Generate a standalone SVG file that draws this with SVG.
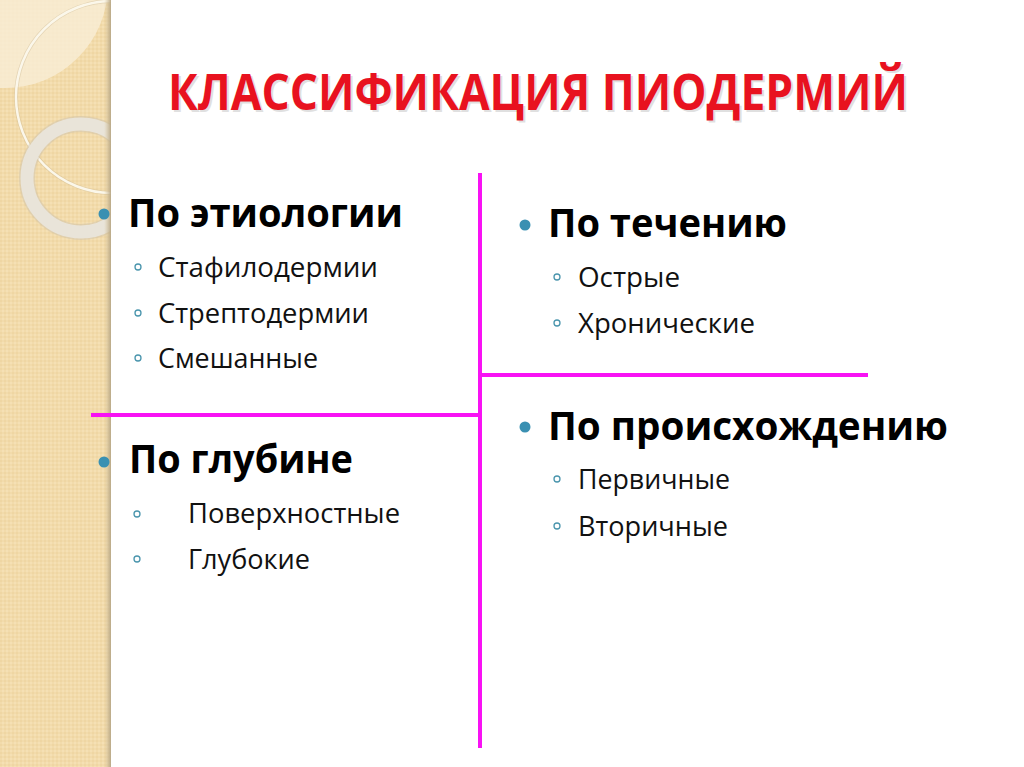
<svg xmlns="http://www.w3.org/2000/svg" width="1024" height="767" viewBox="0 0 1024 767">
<style>
.title{font-family:"Open Sans","Liberation Sans",sans-serif;font-weight:700;font-size:50px;fill:#e8121f}
.tshadow{font-family:"Open Sans","Liberation Sans",sans-serif;font-weight:700;font-size:50px;fill:#9a9a9a;opacity:0.3}
.head{font-family:"Open Sans","Liberation Sans",sans-serif;font-weight:700;font-size:40px;fill:#000}
.item{font-family:"Open Sans","Liberation Sans",sans-serif;font-size:28px;fill:#111}
.dot{fill:#3a90b2}
.sub{fill:#fff;stroke:#4a95ad;stroke-width:1.3}
.line{stroke:#f812f4;stroke-width:4;stroke-linecap:butt;fill:none}
</style>
<defs>
<clipPath id="strip"><rect x="0" y="0" width="111" height="767"/></clipPath>
<linearGradient id="edge" x1="0" y1="0" x2="1" y2="0">
<stop offset="0" stop-color="#d8c49a" stop-opacity="0"/>
<stop offset="1" stop-color="#b8a888"/>
</linearGradient>
<pattern id="hatch" width="4" height="4" patternUnits="userSpaceOnUse">
<rect width="4" height="4" fill="#f2dbab"/>
<rect width="2" height="2" fill="#efd6a3"/>
<rect x="2" y="2" width="2" height="2" fill="#f5e0b4"/>
</pattern>
</defs>
<rect x="0" y="0" width="1024" height="767" fill="#ffffff"/>
<g id="background-strip">
<rect x="0" y="0" width="111" height="767" fill="url(#hatch)"/>
<g clip-path="url(#strip)">
<circle cx="5" cy="-15" r="103" fill="#f8ecd4" opacity="0.85"/>
<circle cx="112" cy="97" r="96" fill="none" stroke="#c9b58e" stroke-width="4" opacity="0.4"/>
<circle cx="112" cy="97" r="96" fill="none" stroke="#fbf7ea" stroke-width="2.5"/>
<circle cx="81" cy="178" r="54" fill="none" stroke="#cfc3ad" stroke-width="16" opacity="0.5"/>
<circle cx="81" cy="178" r="54" fill="none" stroke="#e9e4d9" stroke-width="13"/>
</g>
<rect x="104" y="0" width="7" height="767" fill="url(#edge)"/>
</g>
<g id="title">
<text class="tshadow" x="170" y="112" textLength="740" lengthAdjust="spacingAndGlyphs">КЛАССИФИКАЦИЯ ПИОДЕРМИЙ</text>
<text class="title" x="168" y="110" textLength="740" lengthAdjust="spacingAndGlyphs">КЛАССИФИКАЦИЯ ПИОДЕРМИЙ</text>
</g>
<g id="connectors">
<line class="line" x1="480" y1="173" x2="480" y2="748"/>
<line class="line" x1="91" y1="415" x2="480" y2="415"/>
<line class="line" x1="480" y1="375" x2="868" y2="375"/>
</g>
<g id="etiology">
<circle class="dot" cx="104" cy="214" r="5.5"/>
<text class="head" x="128" y="227" textLength="275" lengthAdjust="spacingAndGlyphs">По этиологии</text>
<circle class="sub" cx="138" cy="267" r="3"/>
<text class="item" x="158" y="277" textLength="220" lengthAdjust="spacingAndGlyphs">Стафилодермии</text>
<circle class="sub" cx="138" cy="313" r="3"/>
<text class="item" x="158" y="323" textLength="211" lengthAdjust="spacingAndGlyphs">Стрептодермии</text>
<circle class="sub" cx="138" cy="358" r="3"/>
<text class="item" x="158" y="368" textLength="160" lengthAdjust="spacingAndGlyphs">Смешанные</text>
</g>
<g id="depth">
<circle class="dot" cx="104" cy="462" r="5.5"/>
<text class="head" x="129" y="473" textLength="224" lengthAdjust="spacingAndGlyphs">По глубине</text>
<circle class="sub" cx="137" cy="514" r="3"/>
<text class="item" x="188" y="523" textLength="212" lengthAdjust="spacingAndGlyphs">Поверхностные</text>
<circle class="sub" cx="137" cy="559" r="3"/>
<text class="item" x="188" y="569" textLength="122" lengthAdjust="spacingAndGlyphs">Глубокие</text>
</g>
<g id="course">
<circle class="dot" cx="525" cy="225" r="5.5"/>
<text class="head" x="548" y="237" textLength="239" lengthAdjust="spacingAndGlyphs">По течению</text>
<circle class="sub" cx="557" cy="277" r="3"/>
<text class="item" x="578" y="287" textLength="102" lengthAdjust="spacingAndGlyphs">Острые</text>
<circle class="sub" cx="557" cy="323" r="3"/>
<text class="item" x="578" y="333" textLength="177" lengthAdjust="spacingAndGlyphs">Хронические</text>
</g>
<g id="origin">
<circle class="dot" cx="525" cy="427" r="5.5"/>
<text class="head" x="548" y="440" textLength="400" lengthAdjust="spacingAndGlyphs">По происхождению</text>
<circle class="sub" cx="557" cy="479" r="3"/>
<text class="item" x="578" y="489" textLength="152" lengthAdjust="spacingAndGlyphs">Первичные</text>
<circle class="sub" cx="557" cy="526" r="3"/>
<text class="item" x="578" y="536" textLength="150" lengthAdjust="spacingAndGlyphs">Вторичные</text>
</g>
</svg>
